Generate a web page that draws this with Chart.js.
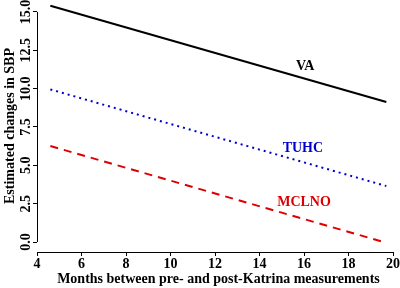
<!DOCTYPE html>
<html>
<head>
<meta charset="utf-8">
<script src="https://cdn.jsdelivr.net/npm/chart.js@4/dist/chart.umd.min.js"></script>
<style>
  html, body { margin: 0; padding: 0; background: #fff; }
  #wrap { width: 400px; height: 288px; }
</style>
</head>
<body>
<div id="wrap"><canvas id="c"></canvas></div>
<script>
// data
var months = [4.6, 19.7];
var va = [15.4, 9.13];
var tuhc = [9.95, 3.65];
var mclno = [6.26, -0.05];
var xTicks = [4, 6, 8, 10, 12, 14, 16, 18, 20];
var yTicks = [0.0, 2.5, 5.0, 7.5, 10.0, 12.5, 15.0];

var serif = "'Liberation Serif', 'Times New Roman', serif";

function pts(ys) {
  return months.map(function(m, i) { return { x: m, y: ys[i] }; });
}

// R style axis lines (only over the tick range) and the line labels
var axisLines = {
  id: "axisLines",
  afterDraw: function(chart) {
    var ctx = chart.ctx;
    var xs = chart.scales.x, ys = chart.scales.y;
    var area = chart.chartArea;
    ctx.save();
    ctx.strokeStyle = "#000";
    ctx.lineWidth = 1;
    ctx.beginPath();
    ctx.moveTo(area.left + 0.5, ys.getPixelForValue(yTicks[0]));
    ctx.lineTo(area.left + 0.5, ys.getPixelForValue(yTicks[yTicks.length - 1]));
    ctx.moveTo(xs.getPixelForValue(xTicks[0]), area.bottom + 0.5);
    ctx.lineTo(xs.getPixelForValue(xTicks[xTicks.length - 1]), area.bottom + 0.5);
    ctx.stroke();

    ctx.font = "bold 14px " + serif;
    ctx.textAlign = "center";
    ctx.textBaseline = "middle";
    var labels = [
      { text: "VA", x: 16.05, y: 11.45, color: "#000000" },
      { text: "TUHC", x: 15.95, y: 6.1, color: "#0000cc" },
      { text: "MCLNO", x: 16.0, y: 2.6, color: "#dd0000" }
    ];
    labels.forEach(function(l) {
      ctx.fillStyle = l.color;
      ctx.fillText(l.text, xs.getPixelForValue(l.x), ys.getPixelForValue(l.y));
    });
    ctx.restore();
  }
};

new Chart(document.getElementById("c"), {
  type: "line",
  data: {
    datasets: [
      {
        label: "VA",
        data: pts(va),
        borderColor: "#000000",
        borderWidth: 2,
        pointRadius: 0
      },
      {
        label: "TUHC",
        data: pts(tuhc),
        borderColor: "#0000cc",
        borderWidth: 2,
        borderDash: [2, 4],
        pointRadius: 0
      },
      {
        label: "MCLNO",
        data: pts(mclno),
        borderColor: "#dd0000",
        borderWidth: 2,
        borderDash: [8, 6],
        pointRadius: 0
      }
    ]
  },
  options: {
    responsive: true,
    maintainAspectRatio: false,
    animation: false,
    layout: { padding: { top: 0, right: 0, left: 0, bottom: 0 } },
    plugins: {
      legend: { display: false },
      tooltip: { enabled: false }
    },
    scales: {
      x: {
        type: "linear",
        min: 4,
        max: 20.31,
        afterBuildTicks: function(scale) {
          scale.ticks = xTicks.map(function(v) { return { value: v }; });
        },
        afterFit: function(scale) { scale.height = 36; },
        border: { display: false },
        grid: { display: true, drawOnChartArea: false, drawTicks: true, tickLength: 4, color: "#000" },
        ticks: {
          color: "#000",
          padding: 0,
          maxRotation: 0,
          font: { family: serif, size: 14, weight: "bold" }
        },
        title: {
          display: true,
          text: "Months between pre- and post-Katrina measurements",
          color: "#000",
          padding: { top: 0, bottom: 0 },
          font: { family: serif, size: 14, weight: "bold" }
        }
      },
      y: {
        type: "linear",
        min: -0.65,
        max: 15.78,
        afterBuildTicks: function(scale) {
          scale.ticks = yTicks.map(function(v) { return { value: v }; });
        },
        afterFit: function(scale) {
          scale.width = 37;
          scale.paddingTop = 0;
          scale.paddingBottom = 0;
        },
        border: { display: false },
        grid: { display: true, drawOnChartArea: false, drawTicks: true, tickLength: 4, color: "#000" },
        ticks: {
          color: "#000",
          padding: -6,
          minRotation: 90,
          maxRotation: 90,
          crossAlign: "center",
          callback: function(v) { return v.toFixed(1); },
          font: { family: serif, size: 14, weight: "bold" }
        },
        title: {
          display: true,
          text: "Estimated changes in SBP",
          color: "#000",
          padding: 0,
          font: { family: serif, size: 14, weight: "bold", lineHeight: 1.45 }
        }
      }
    }
  },
  plugins: [axisLines]
});
</script>
</body>
</html>
